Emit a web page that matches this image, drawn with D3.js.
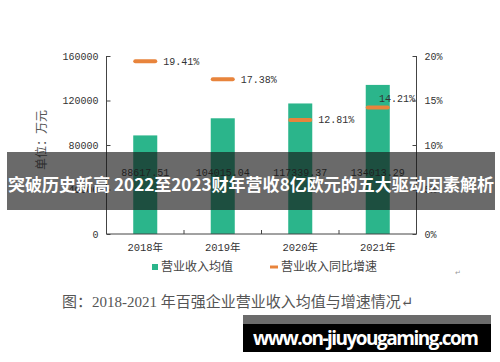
<!DOCTYPE html>
<html>
<head>
<meta charset="utf-8">
<script src="https://cdn.jsdelivr.net/npm/d3@7"></script>
<style>
  body { margin: 0; background: #fff; }
  svg { display: block; }
</style>
</head>
<body>
<svg id="chart"></svg>
<script>
const years = ["2018年", "2019年", "2020年", "2021年"];
const revenueAvg = [88617.51, 104015.04, 117339.37, 134013.29];
const growthRate = [0.1941, 0.1738, 0.1281, 0.1421];
const leftTicks = [0, 40000, 80000, 120000, 160000];
const rightTicks = [0, 0.05, 0.10, 0.15, 0.20];
const legendLabels = ["营业收入均值", "营业收入同比增速"];
const yTitle = "单位：万元";
const caption = "图：2018-2021 年百强企业营业收入均值与增速情况";
const bannerText = "突破历史新高 2022至2023财年营收8亿欧元的五大驱动因素解析";
const siteText = "www.on-jiuyougaming.com";

const width = 500, height = 362;
const green = "#2bb58b", orange = "#e8843c", axisColor = "#444";
const mono = "'Liberation Mono', 'DejaVu Sans Mono', monospace";
const cjk = "'Noto Sans CJK SC', sans-serif";

const svg = d3.select("#chart").attr("width", width).attr("height", height);

const plot = { left: 106.5, right: 416.5, top: 56, bottom: 234 };

const x = d3.scaleBand()
    .domain(years)
    .range([plot.left, plot.right])
    .paddingInner(0.69)
    .paddingOuter(0.345);

const yL = d3.scaleLinear().domain([0, 160000]).range([plot.bottom, plot.top]);
const yR = d3.scaleLinear().domain([0, 0.2]).range([plot.bottom, plot.top]);

// bars
svg.append("g").selectAll("rect")
    .data(revenueAvg)
    .join("rect")
    .attr("x", (d, i) => x(years[i]))
    .attr("y", d => yL(d))
    .attr("width", x.bandwidth())
    .attr("height", d => yL(0) - yL(d))
    .attr("fill", green);

// bar value labels, all on one line
svg.append("g").selectAll("text")
    .data(revenueAvg)
    .join("text")
    .attr("x", (d, i) => x(years[i]) + x.bandwidth() / 2)
    .attr("y", yL(55000))
    .attr("dy", "0.35em")
    .attr("text-anchor", "middle")
    .attr("font-family", mono)
    .attr("font-size", 10)
    .attr("fill", "#333")
    .text(d => d.toFixed(2));

// left axis
const axL = d3.axisLeft(yL).tickValues(leftTicks).tickSize(-4).tickPadding(8).tickFormat(d3.format("d"));
const gL = svg.append("g").attr("transform", `translate(${plot.left},0)`).call(axL);
gL.select(".domain").attr("d", `M-0,${plot.top}V${plot.bottom}`);

// right axis
const axR = d3.axisRight(yR).tickValues(rightTicks).tickSize(-4).tickPadding(8).tickFormat(d3.format(".0%"));
const gR = svg.append("g").attr("transform", `translate(${plot.right},0)`).call(axR);
gR.select(".domain").attr("d", `M0,${plot.top}V${plot.bottom}`);

// bottom axis with ticks between categories
const gB = svg.append("g").attr("transform", `translate(0,${plot.bottom})`);
gB.append("line")
    .attr("x1", plot.left).attr("x2", plot.right)
    .attr("stroke", axisColor);
const step = x.step();
gB.selectAll(".tk")
    .data(years.slice(1))
    .join("line")
    .attr("x1", d => x(d) - (step - x.bandwidth()) / 2)
    .attr("x2", d => x(d) - (step - x.bandwidth()) / 2)
    .attr("y1", 0).attr("y2", -4)
    .attr("stroke", axisColor);
gB.selectAll("text")
    .data(years)
    .join("text")
    .attr("x", d => x(d) + x.bandwidth() / 2)
    .attr("y", 13)
    .attr("dy", "0.35em")
    .attr("text-anchor", "middle")
    .attr("font-family", mono + ", " + cjk)
    .attr("font-size", 10.5)
    .attr("fill", "#333")
    .text(d => d);

[gL, gR].forEach(g => {
    g.selectAll(".domain, line").attr("stroke", axisColor);
    g.selectAll("text").attr("font-family", mono).attr("font-size", 10).attr("fill", "#333");
});

// growth markers
svg.append("g").selectAll("line")
    .data(growthRate)
    .join("line")
    .attr("x1", (d, i) => x(years[i]) + x.bandwidth() / 2 - 10)
    .attr("x2", (d, i) => x(years[i]) + x.bandwidth() / 2 + 10)
    .attr("y1", d => yR(d))
    .attr("y2", d => yR(d))
    .attr("stroke", orange)
    .attr("stroke-width", 4)
    .attr("stroke-linecap", "round");

// growth labels, pushed up-left when they would cross the right axis
const labelW = 37;
svg.append("g").selectAll("text")
    .data(growthRate)
    .join("text")
    .each(function (d, i) {
        let lx = x(years[i]) + x.bandwidth() / 2 + 18;
        let ly = yR(d);
        if (lx + labelW > plot.right) {
            lx = plot.right - labelW - 0.5;
            ly -= 9;
        }
        d3.select(this).attr("x", lx).attr("y", ly);
    })
    .attr("dy", "0.35em")
    .attr("font-family", mono)
    .attr("font-size", 10)
    .attr("fill", "#333")
    .text(d => (d * 100).toFixed(2) + "%");

// y title
svg.append("text")
    .attr("transform", "translate(42,140) rotate(-90)")
    .attr("text-anchor", "middle")
    .attr("dy", "0.35em")
    .attr("font-family", cjk)
    .attr("font-size", 12)
    .attr("fill", "#555")
    .text(yTitle);

// legend
const legend = svg.append("g").attr("transform", "translate(0,267)");
legend.append("rect").attr("x", 152).attr("y", -3).attr("width", 6).attr("height", 6).attr("fill", green);
legend.append("text").attr("x", 161).attr("dy", "0.35em")
    .attr("font-family", cjk).attr("font-size", 12).attr("fill", "#444")
    .text(legendLabels[0]);
legend.append("line").attr("x1", 270).attr("x2", 278).attr("stroke", orange).attr("stroke-width", 3);
legend.append("text").attr("x", 281).attr("dy", "0.35em")
    .attr("font-family", cjk).attr("font-size", 12).attr("fill", "#444")
    .text(legendLabels[1]);

// stray paragraph marks
svg.append("text").attr("x", 455).attr("y", 275).attr("font-size", 7).attr("fill", "#999").text("↵");

// caption
svg.append("text")
    .attr("x", 62).attr("y", 302)
    .attr("dy", "0.35em")
    .attr("font-family", "'Liberation Serif', 'DejaVu Serif', " + cjk)
    .attr("font-size", 15)
    .attr("fill", "#555")
    .text(caption + "↵");

// overlay banner
svg.append("rect")
    .attr("x", 7).attr("y", 152).attr("width", 488).attr("height", 58)
    .attr("fill", "rgba(22,22,22,0.64)");
svg.append("text")
    .attr("x", 251).attr("y", 185)
    .attr("text-anchor", "middle")
    .attr("dy", "0.35em")
    .attr("font-family", cjk)
    .attr("font-weight", "bold")
    .attr("font-size", 17)
    .attr("fill", "#fff")
    .attr("textLength", 486)
    .text(bannerText);

// site box
svg.append("rect").attr("x", 243).attr("y", 315).attr("width", 248).attr("height", 10).attr("fill", "#6b6b6b");
svg.append("rect").attr("x", 243).attr("y", 324).attr("width", 248).attr("height", 28).attr("fill", "#000");
svg.append("text")
    .attr("x", 253).attr("y", 338)
    .attr("dy", "0.35em")
    .attr("font-family", "'Open Sans', 'DejaVu Sans', sans-serif")
    .attr("font-weight", "bold")
    .attr("font-size", 19)
    .attr("fill", "#fff")
    .attr("textLength", 226)
    .text(siteText);
</script>
</body>
</html>
